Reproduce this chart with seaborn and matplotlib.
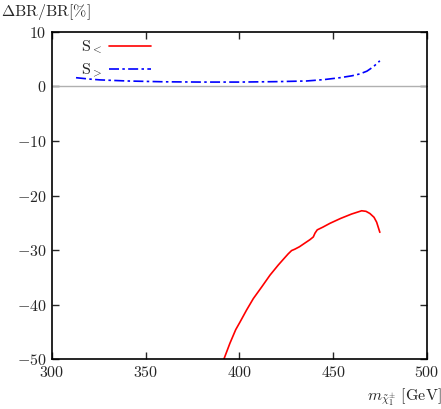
import matplotlib
matplotlib.use("Agg")
import pandas as pd
import seaborn as sns
import matplotlib.pyplot as plt

# S_< curve (red)
mass_lt = [391.7, 394.9, 398.0, 400.3, 403.8, 407.4, 411.8, 416.3, 420.7, 423.4,
           426.0, 427.8, 429.5, 432.0, 435.0, 437.6, 439.4, 440.3, 441.5, 444.5,
           448.3, 454.0, 459.8, 462.5, 465.2, 467.5, 469.6, 471.8, 473.2, 474.9]
dbr_lt = [-50.0, -47.1, -44.6, -43.2, -41.0, -38.9, -36.8, -34.6, -32.75, -31.7,
          -30.7, -30.1, -29.85, -29.4, -28.7, -28.1, -27.6, -26.9, -26.3, -25.8,
          -25.1, -24.2, -23.4, -23.1, -22.8, -22.9, -23.3, -24.0, -24.9, -26.75]

# S_> curve (blue)
mass_gt = [312.8, 320, 325.6, 340, 360, 380, 400, 420, 435.8, 445,
           453.6, 460, 464.3, 468, 471.4, 474.9]
dbr_gt = [1.6, 1.35, 1.2, 1.0, 0.85, 0.8, 0.8, 0.88, 1.0, 1.25,
          1.6, 1.95, 2.3, 2.8, 3.6, 4.7]

x_ticks = [300, 350, 400, 450, 500]
y_ticks = [-50, -40, -30, -20, -10, 0, 10]

sns.set_style("ticks")
plt.rcParams['font.family'] = 'serif'
plt.rcParams['font.serif'] = ['cmr10']
plt.rcParams['mathtext.fontset'] = 'cm'
plt.rcParams['axes.formatter.use_mathtext'] = True
plt.rcParams['font.size'] = 11.5

df_lt = pd.DataFrame({"m": mass_lt, "dbr": dbr_lt})
df_gt = pd.DataFrame({"m": mass_gt, "dbr": dbr_gt})

fig = plt.figure(figsize=(4.41, 4.09), dpi=100)
ax = fig.add_axes([0.118, 0.122, 0.850, 0.800])

ax.axhline(0, color="#b0b0b0", lw=1.0, zorder=1)
sns.lineplot(data=df_lt, x="m", y="dbr", ax=ax, color="red", lw=1.2,
             label="S$_<$", sort=False, estimator=None)
sns.lineplot(data=df_gt, x="m", y="dbr", ax=ax, color="blue", lw=1.2,
             label="S$_>$", sort=False, estimator=None)
ax.lines[-1].set_dashes([6, 2, 1.5, 2])

ax.set_xlim(300, 500)
ax.set_ylim(-50, 10)
ax.set_xticks(x_ticks)
ax.set_yticks(y_ticks)
ax.tick_params(direction="in", top=True, right=True, length=5, width=1,
               labelsize=11.5, pad=4)
for s in ax.spines.values():
    s.set_linewidth(1.2)
    s.set_color("black")

ax.set_xlabel(r"$m_{\tilde{\chi}_1^{\pm}}\ [\mathrm{GeV}]$", fontsize=11.5)
ax.xaxis.set_label_coords(0.94, -0.085)
ax.set_ylabel("")
fig.text(0.002, 0.995, r"$\Delta\mathrm{BR}/\mathrm{BR}[\%]$", fontsize=11.5,
         ha="left", va="top")

leg = ax.legend(loc="upper left", bbox_to_anchor=(0.04, 1.025), markerfirst=False,
                frameon=False, handlelength=2.6, handletextpad=0.4,
                labelspacing=0.35, fontsize=11.5)

fig.savefig("out.png", dpi=100)
